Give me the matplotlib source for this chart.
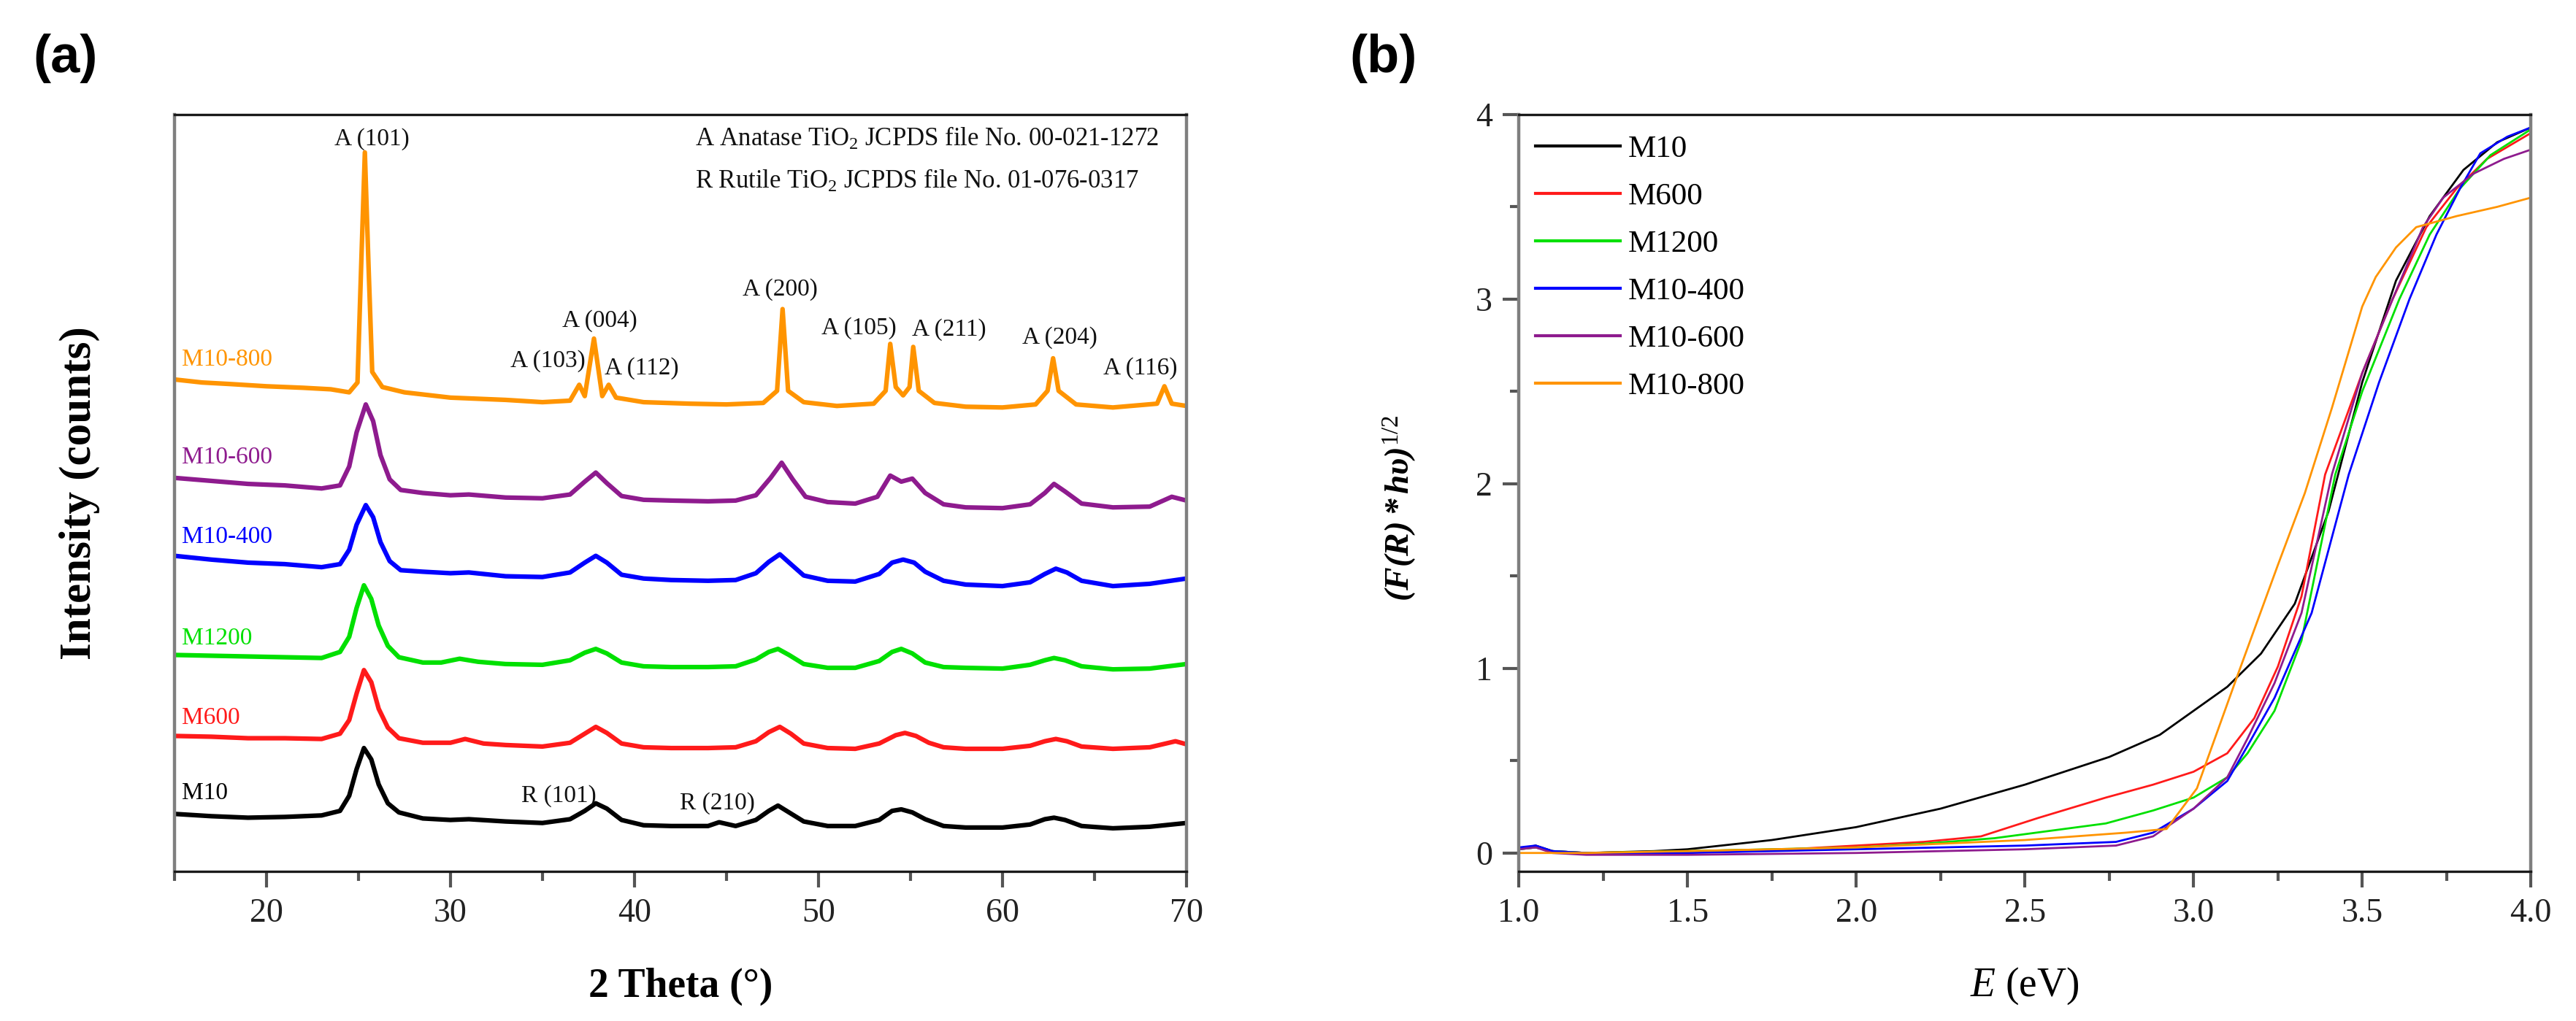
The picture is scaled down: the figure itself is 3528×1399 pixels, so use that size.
import matplotlib
matplotlib.use("Agg")
import matplotlib.pyplot as plt
from matplotlib.ticker import FixedLocator, MultipleLocator, FormatStrFormatter

plt.rcParams["font.family"] = ["Liberation Serif", "DejaVu Serif"]
plt.rcParams["mathtext.fontset"] = "custom"
plt.rcParams["mathtext.rm"] = "Liberation Serif"
plt.rcParams["mathtext.it"] = "Liberation Serif:italic"
plt.rcParams["mathtext.bf"] = "Liberation Serif:bold:italic"

# ---------------- (a) XRD patterns (offset intensities, a.u.) ----------------
tt_m10 = [15, 17, 19, 21, 23, 24.0, 24.5, 24.9, 25.3, 25.7, 26.1, 26.6, 27.2, 28.5, 30, 31, 33, 35,
          36.5, 37.3, 37.9, 38.5, 39.3, 40.5, 42, 44, 44.6, 45.5, 46.6, 47.3, 47.8, 48.4, 49.2,
          50.5, 52, 53.3, 54.0, 54.5, 55.1, 55.8, 56.8, 58, 60, 61.5, 62.3, 62.8, 63.4, 64.3, 66, 68, 70]
i_m10 = [7.6, 7.3, 7.1, 7.2, 7.4, 8.0, 10.0, 13.5, 16.3, 14.8, 11.5, 9.0, 7.8, 7.0, 6.8, 6.9, 6.6, 6.4,
         6.9, 8.0, 9.0, 8.3, 6.8, 6.1, 6.0, 6.0, 6.5, 6.0, 6.8, 8.0, 8.7, 7.8, 6.6,
         6.0, 6.0, 6.8, 8.0, 8.2, 7.8, 6.9, 6.0, 5.8, 5.8, 6.2, 6.9, 7.1, 6.8, 6.0, 5.7, 5.9, 6.4]

tt_m600 = [15, 17, 19, 21, 23, 24.0, 24.5, 24.9, 25.3, 25.7, 26.1, 26.6, 27.2, 28.5, 30, 30.8, 31.8, 33, 35,
           36.5, 37.3, 37.9, 38.5, 39.3, 40.5, 42, 44, 45.5, 46.6, 47.3, 47.9, 48.5, 49.2, 50.5, 52,
           53.3, 54.2, 54.7, 55.3, 56, 56.8, 58, 60, 61.5, 62.3, 62.9, 63.5, 64.3, 66, 68, 69.4, 70]
i_m600 = [17.9, 17.8, 17.6, 17.6, 17.5, 18.2, 20.0, 23.5, 26.6, 25.0, 21.5, 19.0, 17.6, 17.0, 17.0, 17.5, 16.9, 16.7, 16.5,
          17.0, 18.2, 19.1, 18.3, 16.9, 16.4, 16.3, 16.3, 16.4, 17.2, 18.4, 19.1, 18.2, 16.9, 16.3, 16.2,
          16.9, 18.0, 18.3, 17.9, 17.0, 16.4, 16.2, 16.2, 16.6, 17.2, 17.5, 17.2, 16.5, 16.2, 16.4, 17.2, 16.8]

tt_m1200 = [15, 17, 19, 21, 23, 24.0, 24.5, 24.9, 25.3, 25.7, 26.1, 26.6, 27.2, 28.5, 29.5, 30.5, 31.5, 33, 35,
            36.5, 37.3, 37.9, 38.5, 39.3, 40.5, 42, 44, 45.5, 46.6, 47.3, 47.8, 48.4, 49.2, 50.5, 52,
            53.3, 54.0, 54.5, 55.1, 55.8, 56.8, 58, 60, 61.5, 62.3, 62.8, 63.4, 64.3, 66, 68, 70]
i_m1200 = [28.6, 28.5, 28.4, 28.3, 28.2, 29.0, 31.0, 34.8, 37.8, 36.0, 32.5, 29.8, 28.3, 27.6, 27.6, 28.1, 27.7, 27.4, 27.3,
           27.9, 28.9, 29.4, 28.8, 27.6, 27.1, 27.0, 27.0, 27.1, 28.0, 29.0, 29.4, 28.6, 27.4, 26.9, 26.9,
           27.8, 29.0, 29.4, 28.8, 27.6, 27.0, 26.9, 26.8, 27.3, 27.9, 28.2, 27.9, 27.1, 26.7, 26.8, 27.4]

tt_m10_400 = [15, 17, 19, 21, 23, 24.0, 24.5, 24.9, 25.4, 25.8, 26.2, 26.7, 27.3, 28.5, 30, 31, 33, 35,
              36.5, 37.3, 37.9, 38.5, 39.3, 40.5, 42, 44, 45.5, 46.6, 47.3, 47.9, 48.5, 49.2, 50.5, 52,
              53.3, 54.0, 54.6, 55.2, 55.8, 56.8, 58, 60, 61.5, 62.3, 62.9, 63.5, 64.3, 66, 68, 70]
i_m10_400 = [41.7, 41.2, 40.8, 40.6, 40.2, 40.6, 42.5, 45.8, 48.4, 46.8, 43.5, 41.0, 39.8, 39.6, 39.4, 39.5, 39.0, 38.9,
             39.5, 40.8, 41.7, 40.8, 39.2, 38.7, 38.5, 38.4, 38.5, 39.4, 40.9, 41.9, 40.6, 39.1, 38.4, 38.3,
             39.3, 40.8, 41.2, 40.8, 39.6, 38.4, 37.9, 37.7, 38.2, 39.3, 40.0, 39.5, 38.4, 37.7, 38.0, 38.7]

tt_m10_600 = [15, 17, 19, 21, 23, 24.0, 24.5, 24.9, 25.4, 25.8, 26.2, 26.7, 27.3, 28.5, 30, 31, 33, 35,
              36.5, 37.3, 37.9, 38.5, 39.3, 40.5, 42, 44, 45.5, 46.6, 47.4, 48.0, 48.6, 49.3, 50.5, 52,
              53.2, 53.9, 54.5, 55.1, 55.8, 56.8, 58, 60, 61.5, 62.3, 62.8, 63.4, 64.3, 66, 68, 69.2, 70]
i_m10_600 = [52.0, 51.6, 51.2, 51.0, 50.6, 51.0, 53.5, 58.0, 61.7, 59.5, 55.0, 51.8, 50.4, 50.0, 49.7, 49.8, 49.4, 49.3,
             49.8, 51.5, 52.7, 51.3, 49.6, 49.1, 49.0, 48.9, 49.0, 49.7, 52.0, 54.0, 51.8, 49.5, 48.8, 48.6,
             49.5, 52.3, 51.5, 51.9, 50.0, 48.5, 48.1, 48.0, 48.5, 50.0, 51.2, 50.2, 48.6, 48.1, 48.2, 49.5, 49.0]

tt_m10_800 = [15, 16.5, 18, 20, 22, 23.5, 24.5, 24.95, 25.15, 25.35, 25.55, 25.75, 26.3, 27.5, 30, 33, 35,
              36.5, 37.0, 37.3, 37.8, 38.25, 38.6, 39.0, 40.5, 43, 45, 47.0, 47.75, 48.05, 48.35, 49.2, 51,
              53.0, 53.65, 53.9, 54.2, 54.6, 54.95, 55.15, 55.45, 56.3, 58, 60, 61.8, 62.45, 62.75, 63.05, 64,
              66, 68.4, 68.8, 69.2, 70]
i_m10_800 = [65.0, 64.6, 64.4, 64.1, 63.9, 63.7, 63.3, 64.6, 80.0, 95.0, 80.0, 66.0, 64.0, 63.3, 62.6, 62.3, 62.0,
             62.2, 64.3, 62.8, 70.4, 62.8, 64.3, 62.6, 62.0, 61.8, 61.7, 61.9, 63.5, 74.3, 63.5, 62.0, 61.5,
             61.8, 63.5, 69.7, 64.0, 62.9, 64.0, 69.3, 63.5, 61.9, 61.4, 61.3, 61.7, 63.5, 67.8, 63.5, 61.7,
             61.3, 61.8, 64.1, 61.8, 61.5]

samples = ["M10", "M600", "M1200", "M10-400", "M10-600", "M10-800"]
colors = ["#000000", "#ff1a1a", "#00e000", "#0000ff", "#8e1b8e", "#ff9400"]
xrd_tt = [tt_m10, tt_m600, tt_m1200, tt_m10_400, tt_m10_600, tt_m10_800]
xrd_i = [i_m10, i_m600, i_m1200, i_m10_400, i_m10_600, i_m10_800]
sample_label_y = [10.3, 20.3, 30.8, 44.2, 54.7, 67.6]

peak_labels = ["A (101)", "A (103)", "A (004)", "A (112)", "A (200)", "A (105)", "A (211)",
               "A (204)", "A (116)", "R (101)", "R (210)"]
peak_label_x = [25.75, 35.3, 38.1, 40.4, 47.9, 52.2, 57.1, 63.1, 67.5, 35.9, 44.5]
peak_label_y = [96.8, 67.4, 72.7, 66.5, 76.9, 71.8, 71.6, 70.5, 66.5, 10.0, 9.0]

# ---------------- (b) Kubelka-Munk curves ----------------
e_m10 = [1.0, 1.05, 1.1, 1.2, 1.4, 1.5, 1.75, 2.0, 2.25, 2.5, 2.75, 2.9, 3.0, 3.1, 3.2, 3.3, 3.4,
         3.5, 3.6, 3.7, 3.8, 3.9, 4.0]
k_m10 = [0.02, 0.04, 0.01, 0.0, 0.01, 0.02, 0.07, 0.14, 0.24, 0.37, 0.52, 0.64, 0.77, 0.90, 1.08, 1.35, 1.85,
         2.55, 3.1, 3.45, 3.7, 3.85, 3.93]
e_m600 = [1.0, 1.05, 1.1, 1.2, 1.5, 1.8, 2.0, 2.2, 2.37, 2.54, 2.74, 2.88, 3.0, 3.1, 3.18, 3.25, 3.32,
          3.39, 3.5, 3.59, 3.69, 3.78, 3.87, 4.0]
k_m600 = [0.02, 0.03, 0.01, 0.0, 0.01, 0.02, 0.04, 0.06, 0.09, 0.19, 0.30, 0.37, 0.44, 0.54, 0.73, 1.01, 1.39,
          2.05, 2.6, 3.0, 3.39, 3.6, 3.76, 3.90]
e_m1200 = [1.0, 1.05, 1.1, 1.2, 1.5, 2.0, 2.2, 2.41, 2.74, 2.88, 3.0, 3.1, 3.16, 3.24, 3.32, 3.42, 3.5,
           3.61, 3.7, 3.79, 3.88, 4.0]
k_m1200 = [0.02, 0.03, 0.01, 0.0, 0.01, 0.03, 0.05, 0.08, 0.16, 0.23, 0.30, 0.41, 0.54, 0.77, 1.15, 2.05, 2.5,
           3.0, 3.35, 3.6, 3.78, 3.92]
e_m10_400 = [1.0, 1.05, 1.1, 1.2, 1.5, 2.0, 2.5, 2.77, 2.88, 3.0, 3.1, 3.16, 3.24, 3.35, 3.46, 3.55,
             3.64, 3.72, 3.79, 3.85, 3.93, 4.0]
k_m10_400 = [0.03, 0.04, 0.01, 0.0, 0.0, 0.02, 0.04, 0.06, 0.11, 0.24, 0.39, 0.58, 0.84, 1.30, 2.05, 2.55,
             3.0, 3.35, 3.6, 3.79, 3.88, 3.93]
e_m10_600 = [1.0, 1.05, 1.1, 1.2, 1.5, 2.0, 2.5, 2.77, 2.88, 3.0, 3.1, 3.16, 3.24, 3.32, 3.41, 3.5,
             3.59, 3.68, 3.74, 3.83, 3.92, 4.0]
k_m10_600 = [0.02, 0.03, 0.0, -0.01, -0.01, 0.0, 0.02, 0.04, 0.09, 0.24, 0.41, 0.62, 0.92, 1.30, 2.05, 2.6,
             3.0, 3.39, 3.55, 3.68, 3.76, 3.81]
e_m10_800 = [1.0, 1.1, 1.2, 1.5, 2.0, 2.5, 2.8, 2.92, 3.01, 3.13, 3.25, 3.33, 3.41, 3.50, 3.54, 3.60,
             3.66, 3.78, 3.9, 4.0]
k_m10_800 = [0.0, 0.0, 0.0, 0.01, 0.03, 0.07, 0.11, 0.13, 0.35, 0.96, 1.56, 1.95, 2.41, 2.96, 3.12, 3.28,
             3.39, 3.45, 3.5, 3.55]
km_e = [e_m10, e_m600, e_m1200, e_m10_400, e_m10_600, e_m10_800]
km_k = [k_m10, k_m600, k_m1200, k_m10_400, k_m10_600, k_m10_800]

fig = plt.figure(figsize=(35.28, 13.99), dpi=100)
ax1 = fig.add_axes([0.0677, 0.1465, 0.3929, 0.7413])
ax2 = fig.add_axes([0.5896, 0.1465, 0.3929, 0.7413])


def style_axes(ax):
    for side in ["top", "bottom"]:
        ax.spines[side].set_color("#1a1a1a")
        ax.spines[side].set_linewidth(2.4)
    for side in ["left", "right"]:
        ax.spines[side].set_color("#7f7f7f")
        ax.spines[side].set_linewidth(3.2)
    ax.tick_params(which="major", direction="out", length=16, width=3, color="#555555",
                   labelsize=33, labelcolor="#222222", pad=10)
    ax.tick_params(which="minor", direction="out", length=9, width=3, color="#555555")
    ax.tick_params(top=False, right=False)


# (a)
for tt, inten, c in zip(xrd_tt, xrd_i, colors):
    ax1.plot(tt, inten, color=c, lw=4.5, solid_joinstyle="round")
for name, c, y in zip(samples, colors, sample_label_y):
    ax1.text(15.4, y, name, color=c, fontsize=24, va="center", ha="left")
for lab, x, y in zip(peak_labels, peak_label_x, peak_label_y):
    ax1.text(x, y, lab, fontsize=24, ha="center", va="center", color="#111111")
ax1.text(43.3, 96.8, r"A Anatase TiO$_2$ JCPDS file No. 00-021-1272", fontsize=25,
         ha="left", va="center", color="#111111")
ax1.text(43.3, 91.2, r"R Rutile TiO$_2$ JCPDS file No. 01-076-0317", fontsize=25,
         ha="left", va="center", color="#111111")
ax1.set_xlim(15, 70)
ax1.set_ylim(0, 100)
ax1.xaxis.set_major_locator(FixedLocator([20, 30, 40, 50, 60, 70]))
ax1.xaxis.set_minor_locator(FixedLocator([15, 25, 35, 45, 55, 65]))
ax1.set_yticks([])
style_axes(ax1)
ax1.set_xlabel("2 Theta (°)", fontsize=40, fontweight="bold", va="center")
ax1.xaxis.set_label_coords(0.5, -0.152)
ax1.set_ylabel("Intensity (counts)", fontsize=44, fontweight="bold", va="center")
ax1.yaxis.set_label_coords(-0.094, 0.5)

# (b)
for e, k, c, name in zip(km_e, km_k, colors, samples):
    ax2.plot(e, k, color=c, lw=2.0, label=name)
ax2.set_xlim(1.0, 4.0)
ax2.set_ylim(-0.1, 4.0)
ax2.xaxis.set_major_locator(MultipleLocator(0.5))
ax2.xaxis.set_minor_locator(MultipleLocator(0.25))
ax2.xaxis.set_major_formatter(FormatStrFormatter("%.1f"))
ax2.yaxis.set_major_locator(FixedLocator([0, 1, 2, 3, 4]))
ax2.yaxis.set_minor_locator(FixedLocator([0.5, 1.5, 2.5, 3.5]))
style_axes(ax2)
leg = ax2.legend(loc="upper left", bbox_to_anchor=(0.0166, 0.973), frameon=False, fontsize=31,
                 handlelength=2.7, handletextpad=0.25, labelspacing=0.6, borderpad=0,
                 borderaxespad=0)
for line in leg.get_lines():
    line.set_linewidth(3.0)
ax2.set_xlabel(r"$E$ (eV)", fontsize=40, va="center")
ax2.xaxis.set_label_coords(0.5, -0.152)
ax2.set_ylabel(r"$\mathbf{(F(R)*h\upsilon)}^{1/2}$", fontsize=34, va="center")
ax2.yaxis.set_label_coords(-0.118, 0.48)

fig.text(0.0128, 0.943, "(a)", fontsize=52, fontweight="bold", family="Liberation Sans",
         ha="left", va="center")
fig.text(0.524, 0.943, "(b)", fontsize=52, fontweight="bold", family="Liberation Sans",
         ha="left", va="center")

fig.savefig("out.png", dpi=100)
